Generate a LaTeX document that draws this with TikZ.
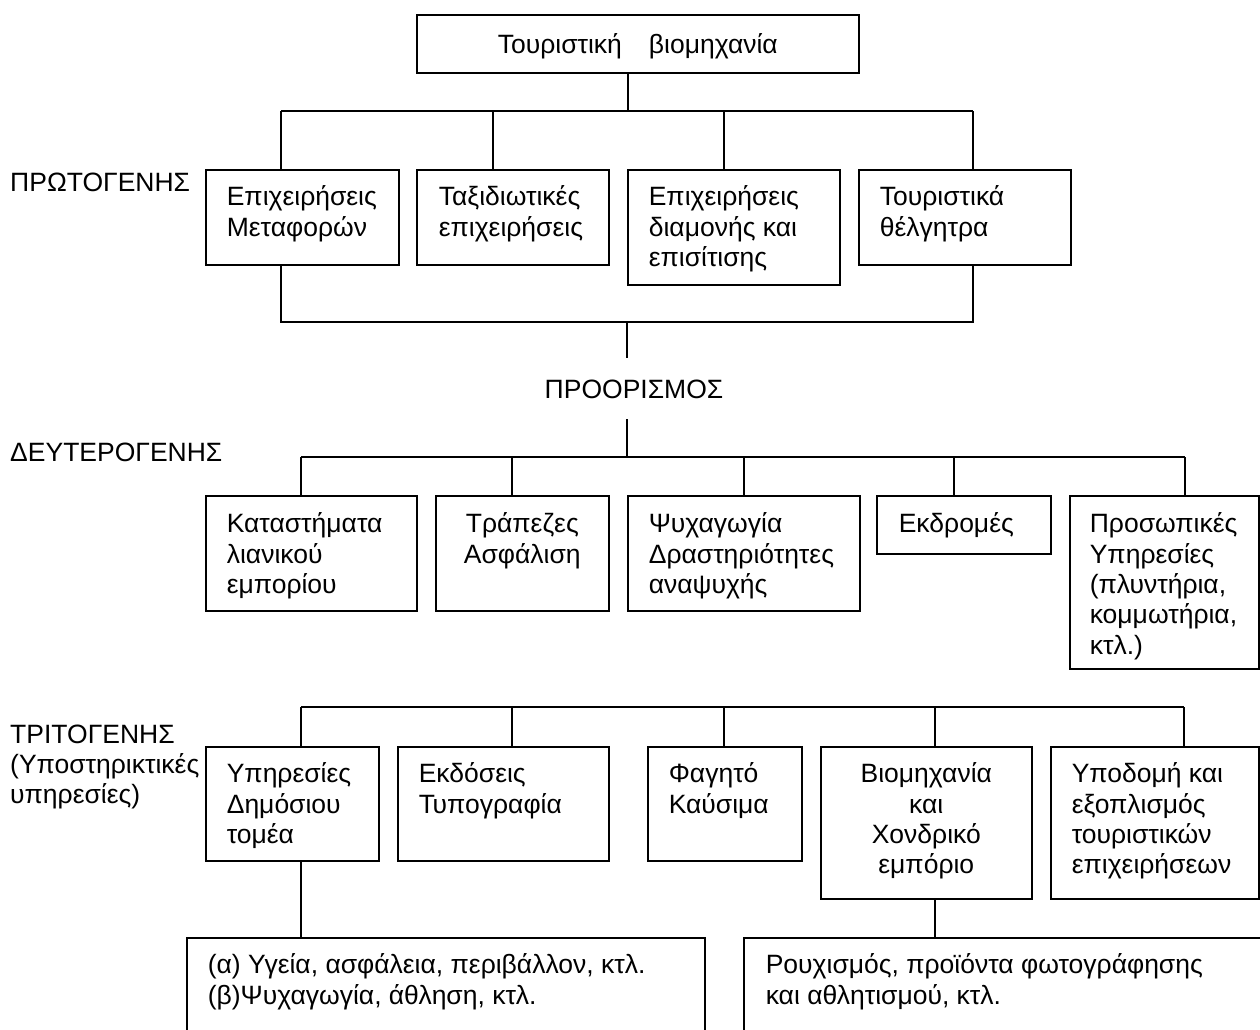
\documentclass[tikz,border=0pt]{standalone}
\usepackage{fontspec}
\setmainfont{Liberation Sans}
% box contents: width, height, alignment code, first-baseline drop, text
\newcommand{\cellbox}[5]{\parbox[t][#2pt][t]{#1pt}{#3\rule{0pt}{#4pt}#5}}
\newcommand{\lefttext}[1]{\raggedright\leftskip=#1pt\relax}
\begin{document}
\begin{tikzpicture}[x=1pt,y=-1pt,
  font=\fontsize{26.5pt}{30.3pt}\selectfont,
  box/.style={draw, line width=1.6pt, inner sep=0pt, anchor=north west},
  wire/.style={line width=1.6pt},
  tag/.style={inner sep=0pt, anchor=base west}]
\useasboundingbox (0,0) rectangle (1260,1029);
\fill[white] (0,0) rectangle (1260,1029);
\clip (0,0) rectangle (1260,1029);

% top of the hierarchy
\node[box] (top) at (416,14) {\cellbox{442}{58}{\centering}{39}{Τουριστική\hspace{27pt}βιομηχανία}};

% level labels
\node[tag] (lab1) at (10,191) {ΠΡΩΤΟΓΕΝΗΣ};
\node[tag] (lab2) at (10,461) {ΔΕΥΤΕΡΟΓΕΝΗΣ};
\node[tag] (lab3) at (10,743) {\parbox[t]{200pt}{\raggedright ΤΡΙΤΟΓΕΝΗΣ\\(Υποστηρικτικές\\υπηρεσίες)}};

% primary sector
\node[box] (p1) at (205,169) {\cellbox{193}{95}{\lefttext{21}}{36}{Επιχειρήσεις\\Μεταφορών}};
\node[box] (p2) at (416,169) {\cellbox{192}{95}{\lefttext{22}}{36}{Ταξιδιωτικές\\επιχειρήσεις}};
\node[box] (p3) at (627,169) {\cellbox{212}{115}{\lefttext{21}}{36}{Επιχειρήσεις\\διαμονής και\\επισίτισης}};
\node[box] (p4) at (858,169) {\cellbox{212}{95}{\lefttext{21}}{36}{Τουριστικά\\θέλγητρα}};

% destination
\node[inner xsep=0pt, inner ysep=21pt, text height=19pt, text depth=0pt, anchor=base] (dest) at (634,398) {ΠΡΟΟΡΙΣΜΟΣ};

% secondary sector
\node[box] (s1) at (205,495) {\cellbox{211}{115}{\lefttext{21}}{37}{Καταστήματα\\λιανικού\\εμπορίου}};
\node[box] (s2) at (435,495) {\cellbox{173}{115}{\centering}{37}{Τράπεζες\\Ασφάλιση}};
\node[box] (s3) at (627,495) {\cellbox{232}{115}{\lefttext{21}}{37}{Ψυχαγωγία\\Δραστηριότητες\\αναψυχής}};
\node[box] (s4) at (876,495) {\cellbox{174}{58}{\lefttext{22}}{37}{Εκδρομές}};
\node[box] (s5) at (1069,495) {\cellbox{189}{173}{\lefttext{20}}{37}{Προσωπικές\\Υπηρεσίες\\(πλυντήρια,\\κομμωτήρια,\\κτλ.)}};

% tertiary sector
\node[box] (t1) at (205,746) {\cellbox{173}{114}{\lefttext{21}}{36}{Υπηρεσίες\\Δημόσιου\\τομέα}};
\node[box] (t2) at (397,746) {\cellbox{211}{114}{\lefttext{21}}{36}{Εκδόσεις\\Τυπογραφία}};
\node[box] (t3) at (647,746) {\cellbox{154}{114}{\lefttext{21}}{36}{Φαγητό\\Καύσιμα}};
\node[box] (t4) at (820,746) {\cellbox{211}{152}{\centering}{36}{Βιομηχανία\\και\\Χονδρικό\\εμπόριο}};
\node[box] (t5) at (1050,746) {\cellbox{208}{152}{\lefttext{21}}{36}{Υποδομή και\\εξοπλισμός\\τουριστικών\\επιχειρήσεων}};

% details below the tertiary sector
\node[box] (u1) at (186,937) {\cellbox{518}{130}{\lefttext{21}}{36}{(α) Υγεία, ασφάλεια, περιβάλλον, κτλ.\\(β)Ψυχαγωγία, άθληση, κτλ.}};
\node[box] (u2) at (743,937) {\cellbox{600}{130}{\lefttext{22}}{36}{Ρουχισμός, προϊόντα φωτογράφησης\\και αθλητισμού, κτλ.}};

% junction points
\coordinate (c0) at (628,111);
\coordinate (b1) at (281,111);
\coordinate (b2) at (493,111);
\coordinate (b3) at (724,111);
\coordinate (b4) at (973,111);
\coordinate (q1) at (281,322);
\coordinate (q4) at (973,322);
\coordinate (qm) at (627,322);
\coordinate (mm) at (627,457);
\coordinate (m1) at (301,457);
\coordinate (m2) at (512,457);
\coordinate (m3) at (744,457);
\coordinate (m4) at (954,457);
\coordinate (m5) at (1185,457);
\coordinate (n1) at (301,707);
\coordinate (n2) at (512,707);
\coordinate (n3) at (724,707);
\coordinate (n4) at (935,707);
\coordinate (n5) at (1184,707);

% connectors
\draw[wire] (top.south -| c0) -- (c0);
\draw[wire] (b1) -- (b4);
\foreach \k in {1,2,3,4} \draw[wire] (b\k) -- (b\k |- p\k.north);
\draw[wire] (p1.south -| q1) -- (q1) -- (q4) -- (p4.south -| q4);
\draw[wire] (qm) -- (qm |- dest.north);
\draw[wire] (dest.south -| mm) -- (mm);
\draw[wire] (m1) -- (m5);
\foreach \k in {1,2,3,4,5} \draw[wire] (m\k) -- (m\k |- s\k.north);
\draw[wire] (n1) -- (n5);
\foreach \k in {1,2,3,4,5} \draw[wire] (n\k) -- (n\k |- t\k.north);
\draw[wire] (t1.south -| n1) -- (n1 |- u1.north);
\draw[wire] (t4.south -| n4) -- (n4 |- u2.north);
\end{tikzpicture}
\end{document}
